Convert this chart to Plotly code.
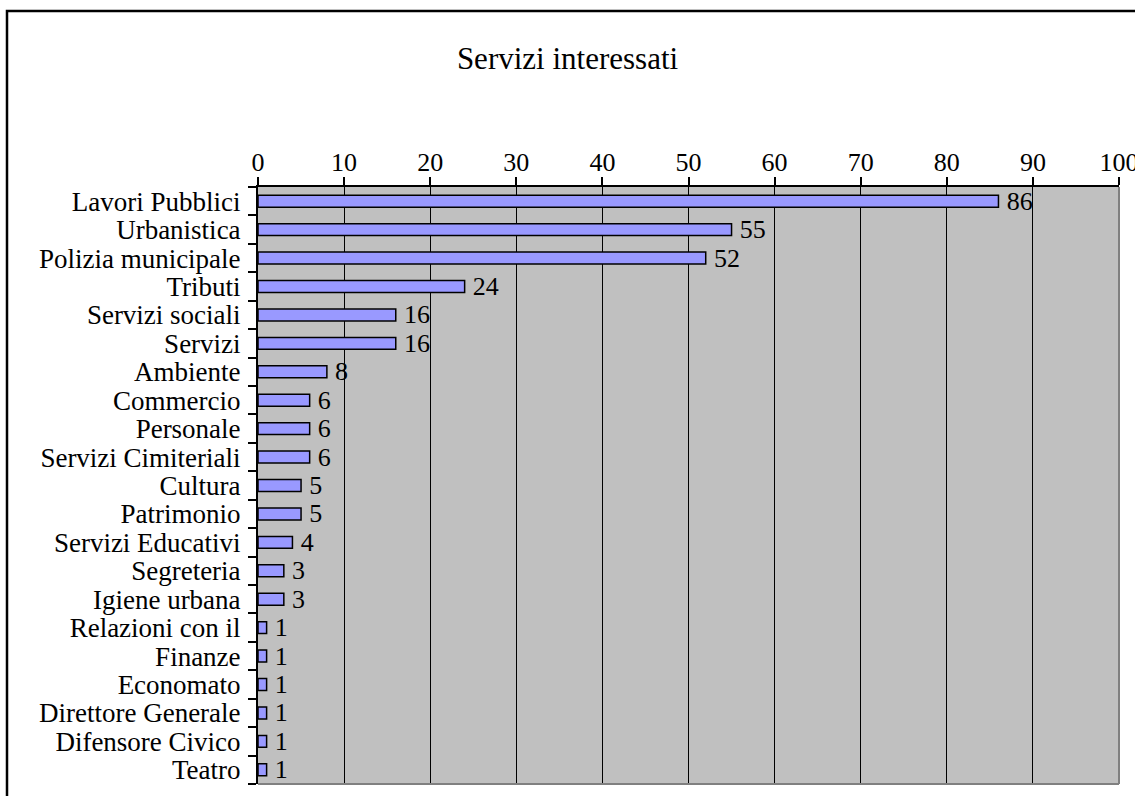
import plotly.graph_objects as go

categories = ["Lavori Pubblici", "Urbanistica", "Polizia municipale", "Tributi",
              "Servizi sociali", "Servizi", "Ambiente", "Commercio", "Personale",
              "Servizi Cimiteriali", "Cultura", "Patrimonio", "Servizi Educativi",
              "Segreteria", "Igiene urbana", "Relazioni con il", "Finanze",
              "Economato", "Direttore Generale", "Difensore Civico", "Teatro"]
values = [86, 55, 52, 24, 16, 16, 8, 6, 6, 6, 5, 5, 4, 3, 3, 1, 1, 1, 1, 1, 1]
x_ticks = [0, 10, 20, 30, 40, 50, 60, 70, 80, 90, 100]
title_text = "Servizi interessati"

FONT = "Liberation Serif"

fig = go.Figure()
fig.add_trace(go.Bar(
    y=categories, x=values, orientation="h",
    marker=dict(color="#9999FF", line=dict(color="black", width=1.5)),
    text=[str(v) for v in values], texttemplate="\u2009%{text}",
    textposition="outside",
    textfont=dict(family=FONT, size=26, color="black"),
    constraintext="none",
    cliponaxis=False, width=0.42,
))

fig.update_layout(
    width=1135, height=796,
    margin=dict(l=258, r=16, t=187, b=12),
    paper_bgcolor="white", plot_bgcolor="#C0C0C0",
    showlegend=False,
    font=dict(family=FONT, size=26, color="black"),
    title=dict(text=title_text, x=0.5, xref="container", xanchor="center",
               y=(796 - 58) / 796, yref="container", yanchor="middle",
               font=dict(family=FONT, size=31, color="black")),
    xaxis=dict(side="top", range=[0, 100], tickmode="array", tickvals=x_ticks,
               showgrid=True, gridcolor="black", gridwidth=1,
               showline=True, linecolor="black", linewidth=2,
               ticks="outside", ticklen=8, tickcolor="black", tickwidth=1.5,
               zeroline=False, ticklabelstandoff=-4, ticklabeloverflow="allow",
               automargin=False,
               tickfont=dict(family=FONT, size=26)),
    yaxis=dict(autorange="reversed", tickson="boundaries",
               tickmode="array", tickvals=categories,
               showline=True, linecolor="black", linewidth=2,
               ticks="outside", ticklen=8, tickcolor="black", tickwidth=1.5,
               showgrid=False, ticklabelstandoff=10, automargin=False,
               tickfont=dict(family=FONT, size=27)),
    shapes=[
        dict(type="line", xref="paper", yref="paper", x0=1, x1=1, y0=0, y1=1,
             line=dict(color="#808080", width=2), layer="above"),
        dict(type="line", xref="paper", yref="paper", x0=0, x1=1, y0=0, y1=0,
             line=dict(color="#808080", width=2), layer="above"),
        dict(type="rect", xref="paper", yref="paper",
             x0=(7 - 258) / 861, x1=3, y0=-3, y1=(784 - 11) / 597,
             line=dict(color="black", width=2.5), layer="above"),
    ],
)

fig.write_html("out.html", config={"displayModeBar": False},
               post_script="document.body.style.margin='0px';document.body.style.overflow='hidden';")
